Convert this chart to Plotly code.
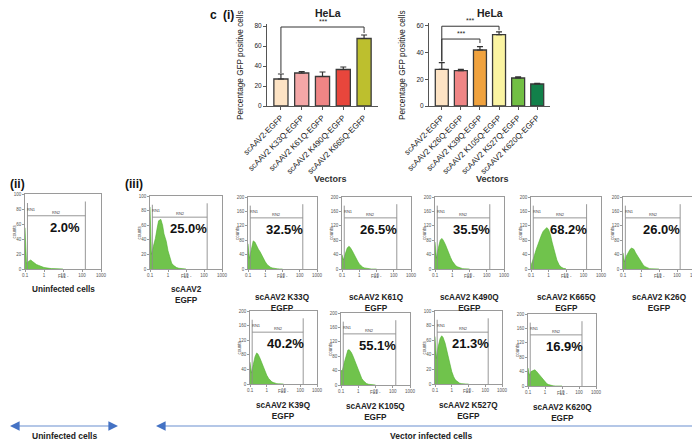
import plotly.graph_objs as go

# (i) HeLa, left panel -------------------------------------------------------
vectores_1 = ["scAAV2-EGFP", "scAAV2 K33Q-EGFP", "scAAV2 K61Q-EGFP",
              "scAAV2 K490Q-EGFP", "scAAV2 K665Q-EGFP"]
gfp_1 = [27, 33, 29.5, 36.5, 67.5]
err_1 = [5, 1.5, 4.5, 2.5, 3.5]
colores_1 = ["#FDE3C4", "#F4A7A7", "#EF8585", "#E8463C", "#BDBF2E"]

# (i) HeLa, right panel ------------------------------------------------------
vectores_2 = ["scAAV2-EGFP", "scAAV2 K26Q-EGFP", "scAAV2 K39Q-EGFP",
              "scAAV2 K105Q-EGFP", "scAAV2 K527Q-EGFP", "scAAV2 K620Q-EGFP"]
gfp_2 = [27.5, 26.5, 42, 53.5, 21, 16.5]
err_2 = [5, 1, 2.5, 2, 0.8, 0.5]
colores_2 = ["#FDE3C4", "#EF8585", "#F0A23E", "#FBF4A2", "#72BF44", "#12804A"]

# (ii)/(iii) FL1 histograms ---------------------------------------------------
fl1_bins = [0.1, 0.12, 0.15, 0.2, 0.25, 0.3, 0.4, 0.5, 0.6, 0.8,
            1, 1.3, 1.6, 2, 2.5, 3, 4, 5, 7, 10]

paneles = ["Uninfected cells", "scAAV2<br>EGFP", "scAAV2 K33Q<br>EGFP",
           "scAAV2 K61Q<br>EGFP", "scAAV2 K490Q<br>EGFP", "scAAV2 K665Q<br>EGFP",
           "scAAV2 K26Q<br>EGFP", "scAAV2 K39Q<br>EGFP", "scAAV2 K105Q<br>EGFP",
           "scAAV2 K527Q<br>EGFP", "scAAV2 K620Q<br>EGFP"]
porcentajes = ["2.0%", "25.0%", "32.5%", "26.5%", "35.5%", "68.2%",
               "26.0%", "40.2%", "55.1%", "21.3%", "16.9%"]
counts_max = [100, 100, 200, 200, 200, 200, 200, 200, 200, 100, 200]

c_uninf = [55, 8, 10, 12, 10, 8, 6, 5, 4, 3, 2, 1.5, 1, 1, 0.5, 0.5, 0.3, 0.2, 0, 0]
c_egfp = [85, 20, 30, 42, 56, 66, 68, 60, 48, 38, 25, 15, 8, 5, 3, 2, 1, 0.5, 0, 0]
c_k33q = [70, 30, 50, 78, 75, 65, 55, 48, 40, 30, 20, 12, 8, 5, 3, 2, 1, 0.5, 0, 0]
c_k61q = [40, 25, 40, 58, 63, 60, 50, 40, 32, 22, 14, 8, 5, 3, 2, 1, 0.5, 0, 0, 0]
c_k490q = [75, 30, 55, 80, 85, 80, 68, 55, 45, 32, 22, 14, 9, 6, 4, 2, 1, 0.5, 0, 0]
c_k665q = [10, 20, 35, 55, 70, 80, 95, 105, 110, 115, 110, 95, 75, 55, 38, 25, 12, 6, 2, 0.5]
c_k26q = [45, 20, 35, 48, 55, 58, 55, 45, 38, 28, 20, 12, 7, 4, 2, 1, 0.5, 0, 0, 0]
c_k39q = [60, 30, 50, 75, 85, 82, 70, 58, 48, 35, 24, 15, 10, 6, 4, 2, 1, 0.5, 0, 0]
c_k105q = [40, 40, 60, 85, 97, 98, 90, 80, 70, 55, 40, 28, 18, 12, 7, 4, 2, 1, 0.3, 0]
c_k527q = [65, 35, 50, 62, 66, 64, 56, 46, 38, 26, 17, 10, 6, 4, 2, 1, 0.5, 0, 0, 0]
c_k620q = [50, 30, 40, 42, 45, 42, 35, 28, 22, 15, 10, 6, 4, 2, 1, 0.5, 0, 0, 0, 0]
conteos = [c_uninf, c_egfp, c_k33q, c_k61q, c_k490q, c_k665q,
           c_k26q, c_k39q, c_k105q, c_k527q, c_k620q]

# where each histogram box sits, in pixels: left, top, right, bottom, caption offset
cajas = [(17, 186, 93, 261, 20), (142, 188, 214, 261, 26), (240, 189, 309, 261, 34),
         (334, 189, 403, 261, 34), (427, 189, 496, 261, 34), (523, 189, 593, 261, 34),
         (615, 189, 687, 261, 34), (242, 303, 309, 376, 27), (333, 305, 402, 377, 27),
         (427, 303, 494, 376, 27), (520, 306, 588, 378, 27)]

W, H = 700, 439
FONT = "Arial, Liberation Sans, sans-serif"


def fx(p):
    return p / W


def fy(p):
    return 1 - p / H


fig = go.Figure()
anots = []
formas = []
ejes = {}


def texto(**kw):
    # centred text unless told otherwise (plotly's "auto" anchors shift paper text)
    kw.setdefault("xanchor", "center")
    kw.setdefault("yanchor", "middle")
    kw.setdefault("showarrow", False)
    anots.append(kw)


# ---- bar charts
for k, (vec, val, err, col, x0, x1, ymax, ytop, xc) in enumerate([
        (vectores_1, gfp_1, err_1, colores_1, 259, 370, 82, 16, 320),
        (vectores_2, gfp_2, err_2, colores_2, 421, 542, 62, 15.3, 482)]):
    n = k + 1
    sx = "" if n == 1 else str(n)
    fig.add_trace(go.Bar(
        x=vec, y=val, width=0.68,
        error_y=dict(type="data", array=err, arrayminus=[0] * len(err), symmetric=False,
                     color="#333333", thickness=1.2, width=3),
        marker=dict(color=col, line=dict(color="#3a3a3a", width=1.3)),
        xaxis="x" + sx, yaxis="y" + sx))
    ejes["xaxis" + sx] = dict(
        domain=[fx(x0), fx(x1)], anchor="y" + sx, type="category", automargin=False,
        range=[-0.67, len(vec) - 1 + 0.67], showline=True, linecolor="#555", linewidth=1,
        ticks="outside", ticklen=3, tickcolor="#555", tickangle=-45,
        tickfont=dict(size=8, color="#222", family=FONT), showgrid=False)
    ejes["yaxis" + sx] = dict(
        domain=[fy(98), fy(ytop)], anchor="x" + sx, range=[0, ymax], automargin=False,
        dtick=20, showline=True, linecolor="#555", linewidth=1, ticks="outside",
        ticklen=3, tickcolor="#555", tickfont=dict(size=6.5, color="#222", family=FONT),
        showgrid=False, zeroline=False)
    texto(x=fx(xc), y=fy(4.5), xref="paper", yref="paper", text="<b>HeLa</b>",
          font=dict(size=10.5, color="#222"))
    texto(x=fx(xc + 2), y=fy(171), xref="paper", yref="paper", text="<b>Vectors</b>",
          font=dict(size=9, color="#333"))
    texto(x=fx(x0 - 26), y=fy(57), xref="paper", yref="paper",
          text="Percentage GFP positive cells", textangle=-90,
          font=dict(size=8.2, color="#222"))

# significance brackets
def bracket(sx, vec, val, err, i, j, nivel, bajo_i, bajo_j):
    xs = vec[i]
    xe = vec[j]
    formas.append(dict(type="line", xref="x" + sx, yref="y" + sx, x0=xs, x1=xs,
                       y0=val[i] + err[i] + bajo_i, y1=nivel, line=dict(color="#333", width=1)))
    formas.append(dict(type="line", xref="x" + sx, yref="y" + sx, x0=xs, x1=xe,
                       y0=nivel, y1=nivel, line=dict(color="#333", width=1)))
    formas.append(dict(type="line", xref="x" + sx, yref="y" + sx, x0=xe, x1=xe,
                       y0=nivel, y1=nivel - bajo_j, line=dict(color="#333", width=1)))
    texto(x=(i + j) / 2, y=nivel, xref="x" + sx, yref="y" + sx, text="***",
          yanchor="bottom", font=dict(size=7, color="#222"))


bracket("", vectores_1, gfp_1, err_1, 0, 4, 79, 1, 6)
bracket("2", vectores_2, gfp_2, err_2, 0, 3, 59.8, 1, 3)
bracket("2", vectores_2, gfp_2, err_2, 0, 2, 50.2, 1, 3)

# ---- histograms
for i in range(len(paneles)):
    n = i + 3
    l, t, r, b, dy = cajas[i]
    ymax = counts_max[i]
    fig.add_trace(go.Scatter(
        x=fl1_bins, y=conteos[i], mode="lines",
        line=dict(color="#4FAE2E", width=0.6), fill="tozeroy",
        fillcolor="rgba(104,192,66,0.95)", xaxis="x%d" % n, yaxis="y%d" % n,
        hoverinfo="skip"))
    ejes["xaxis%d" % n] = dict(
        domain=[fx(l), fx(r)], anchor="y%d" % n, type="log", range=[-1, 3], automargin=False,
        tickvals=[0.1, 1, 10, 100, 1000], ticktext=["0.1", "1", "10", "100", "1000"],
        ticks="outside", ticklen=2, tickcolor="#999", showline=True, mirror=True,
        linecolor="#9a9a9a", linewidth=0.8, showgrid=False,
        tickfont=dict(size=4.5, color="#555"))
    ejes["yaxis%d" % n] = dict(
        domain=[fy(b), fy(t)], anchor="x%d" % n, range=[0, ymax], dtick=ymax / 5,
        automargin=False,
        ticks="outside", ticklen=2, tickcolor="#999", showline=True, mirror=True,
        linecolor="#9a9a9a", linewidth=0.8, showgrid=False, zeroline=False,
        tickfont=dict(size=4.5, color="#555"))
    # axis titles, kept tight to the box
    texto(x=fx((l + r) / 2), y=fy(b + 7.5), xref="paper", yref="paper",
          text="FL1 -", font=dict(size=4.5, color="#555"), borderpad=0)
    texto(x=fx(l - 11), y=fy((t + b) / 2), xref="paper", yref="paper",
          text="counts", textangle=-90, font=dict(size=4.5, color="#555"))
    # RN1 / RN2 gates
    g = dict(color="#8c8c8c", width=0.9)
    formas.append(dict(type="line", xref="x%d" % n, yref="y%d" % n, x0=0.135, x1=0.135,
                       y0=0, y1=0.88 * ymax, line=g))
    formas.append(dict(type="line", xref="x%d" % n, yref="y%d" % n, x0=0.135, x1=150,
                       y0=0.71 * ymax, y1=0.71 * ymax, line=g))
    formas.append(dict(type="line", xref="x%d" % n, yref="y%d" % n, x0=150, x1=150,
                       y0=0, y1=0.9 * ymax, line=g))
    texto(x=0.0, y=0.8, xref="x%d domain" % n, yref="y%d domain" % n,
          text="RN1", xanchor="left", font=dict(size=4, color="#444"))
    texto(x=0.42, y=0.76, xref="x%d domain" % n, yref="y%d domain" % n,
          text="RN2", font=dict(size=4, color="#444"))
    texto(x=0.53, y=0.55, xref="x%d domain" % n, yref="y%d domain" % n,
          text="<b>%s</b>" % porcentajes[i], font=dict(size=13, color="#111"))
    texto(x=fx((l + r) / 2), y=fy(b + dy), xref="paper", yref="paper",
          text="<b>%s</b>" % paneles[i], font=dict(size=8.2, color="#222"), borderpad=0)

# panel letters
for txt, x, y in [("c", 206, 7), ("(i)", 220, 7), ("(ii)", 9, 176), ("(iii)", 126, 176)]:
    texto(x=fx(x), y=fy(y), xref="paper", yref="paper", text="<b>%s</b>" % txt,
          font=dict(size=12, color="#111"))

# bottom arrows
for x0, x1, txt in [(2, 110, "Uninfected cells"), (148, 697, "Vector infected cells")]:
    formas.append(dict(type="line", xref="paper", yref="paper", x0=fx(x0 + 3), x1=fx(x1 - 3),
                       y0=fy(418), y1=fy(418), line=dict(color="#B4C7E7", width=2.2)))
    for a, d in [(x0, 7), (x1, -7)]:
        anots.append(dict(x=fx(a), y=fy(418), ax=d, ay=0, xref="paper", yref="paper",
                          text="", showarrow=True,
                          arrowhead=2, arrowsize=1.2, arrowwidth=1.6, arrowcolor="#4472C4"))
    texto(x=fx((x0 + x1) / 2), y=fy(428), xref="paper", yref="paper",
          text="<b>%s</b>" % txt, font=dict(size=8.5, color="#222"), borderpad=0)

fig.update_layout(
    width=W, height=H, margin=dict(l=0, r=0, t=0, b=0, autoexpand=False),
    paper_bgcolor="white", plot_bgcolor="white", showlegend=False,
    font=dict(family=FONT), annotations=anots, shapes=formas, **ejes)

fig.write_html("out.html")
